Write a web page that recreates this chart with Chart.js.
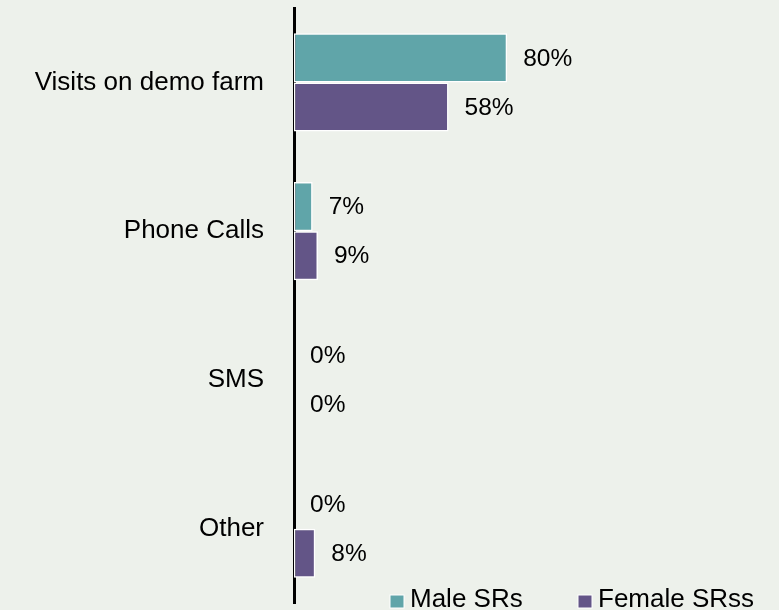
<!DOCTYPE html>
<html>
<head>
<meta charset="utf-8">
<script src="https://cdn.jsdelivr.net/npm/chart.js@4/dist/chart.umd.min.js"></script>
<style>
  html, body { margin: 0; padding: 0; background: #edf1eb; }
  #wrap { width: 779px; height: 610px; position: relative; }
</style>
</head>
<body>
<div id="wrap"><canvas id="chart"></canvas></div>
<script>
const categories = ['Visits on demo farm', 'Phone Calls', 'SMS', 'Other'];
const maleValues = [80, 7, 0, 0];
const femaleValues = [58, 9, 0, 8];
const seriesNames = ['Male SRs', 'Female SRss'];

const colors = {
  male: '#60a5a9',
  female: '#635587',
  text: '#000000',
};
const FONT = '"Liberation Sans", Arial, sans-serif';

// value labels to the right of each bar
const barLabels = {
  id: 'barLabels',
  afterDatasetsDraw(chart) {
    const { ctx } = chart;
    ctx.save();
    ctx.font = `24.5px ${FONT}`;
    ctx.fillStyle = colors.text;
    ctx.textAlign = 'left';
    ctx.textBaseline = 'middle';
    chart.data.datasets.forEach((ds, i) => {
      chart.getDatasetMeta(i).data.forEach((bar, j) => {
        ctx.fillText(`${ds.data[j]}%`, bar.x + 16, bar.y + 1);
      });
    });
    ctx.restore();
  },
};

// legend drawn over the bottom of the plot, like the original
const bottomLegend = {
  id: 'bottomLegend',
  afterDraw(chart) {
    const { ctx } = chart;
    const xs = [390, 578];
    ctx.save();
    ctx.font = `26px ${FONT}`;
    ctx.textBaseline = 'middle';
    chart.data.datasets.forEach((ds, i) => {
      ctx.fillStyle = ds.backgroundColor;
      ctx.strokeStyle = '#ffffff';
      ctx.lineWidth = 1;
      ctx.fillRect(xs[i], 595, 14, 13);
      ctx.strokeRect(xs[i], 595, 14, 13);
      ctx.fillStyle = colors.text;
      ctx.fillText(ds.label, xs[i] + 20, 600);
    });
    ctx.restore();
  },
};

new Chart(document.getElementById('chart'), {
  type: 'bar',
  data: {
    labels: categories,
    datasets: [
      {
        label: seriesNames[0],
        data: maleValues,
        backgroundColor: colors.male,
        borderColor: '#ffffff',
        borderWidth: 1.5,
        borderSkipped: false,
      },
      {
        label: seriesNames[1],
        data: femaleValues,
        backgroundColor: colors.female,
        borderColor: '#ffffff',
        borderWidth: 1.5,
        borderSkipped: false,
      },
    ],
  },
  options: {
    indexAxis: 'y',
    responsive: true,
    maintainAspectRatio: false,
    animation: false,
    layout: { padding: { top: 8, bottom: 7, left: 0, right: 0 } },
    categoryPercentage: 0.66,
    barPercentage: 1,
    plugins: {
      legend: { display: false },
      tooltip: { enabled: false },
    },
    scales: {
      x: {
        display: false,
        min: 0,
        max: 182,
      },
      y: {
        afterFit: (scale) => {
          scale.width = 294;
          scale.paddingTop = 0;
          scale.paddingBottom = 0;
        },
        grid: { display: false },
        border: { display: true, color: '#000000', width: 3 },
        ticks: {
          color: colors.text,
          padding: 22,
          font: { family: FONT, size: 26 },
        },
      },
    },
  },
  plugins: [barLabels, bottomLegend],
});
</script>
</body>
</html>
